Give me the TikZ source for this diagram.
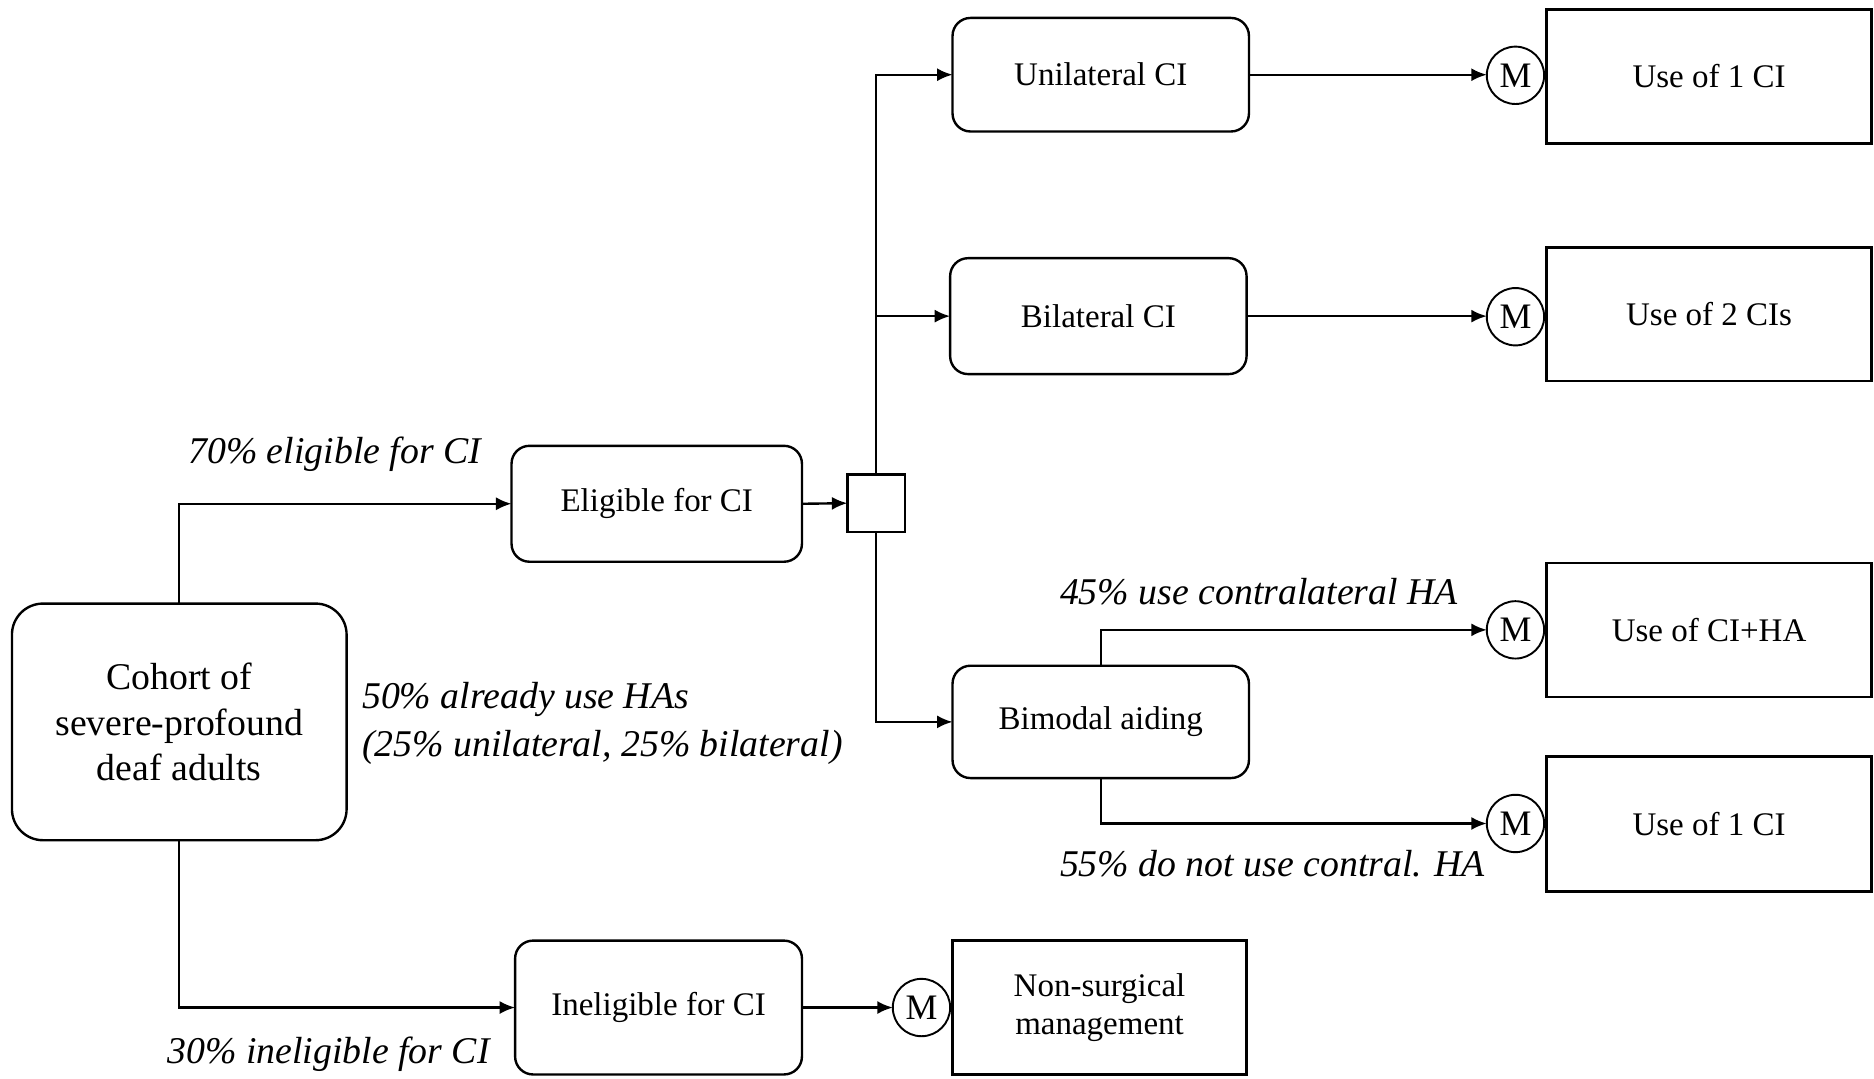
\documentclass[tikz,border=0pt]{standalone}
\usepackage{fontspec}
\setmainfont{Liberation Serif}
\usetikzlibrary{arrows.meta}
\begin{document}
\begin{tikzpicture}[x=0.5pt,y=-0.5pt,
  every node/.style={inner sep=0pt,outer sep=0pt},
  rbox/.style={draw,line width=1pt,rounded corners=7.5pt,align=center,font=\fontsize{13.8}{16}\selectfont},
  sbox/.style={draw,line width=1pt,align=center,font=\fontsize{13.8}{16}\selectfont},
  mcirc/.style={draw,circle,line width=0.8pt,minimum size=24pt,font=\fontsize{15}{16}\selectfont},
  lbl/.style={font=\fontsize{15.8}{18}\selectfont\itshape},
  arr/.style={line width=1pt,-{Latex[length=6.5pt,width=5.5pt]}}]
\useasboundingbox (0,0) rectangle (1568,902);
% boxes
\node[rbox,rounded corners=13pt,minimum width=140pt,minimum height=99pt,font=\fontsize{15.8}{19}\selectfont] (cohort) at (150,604) {Cohort of\\severe-profound\\deaf adults};
\node[rbox,minimum width=121.5pt,minimum height=48.5pt] (elig) at (549.5,421.5) {Eligible for CI};
\node[draw,line width=1pt,minimum width=24pt,minimum height=24pt] (sq) at (733,421) {};
\node[rbox,minimum width=120pt,minimum height=56pt] (inel) at (551,843) {Ineligible for CI};
\node[rbox,minimum width=124pt,minimum height=47.5pt] (uni) at (921,62.5) {Unilateral CI};
\node[rbox,minimum width=124pt,minimum height=48.5pt] (bil) at (919,264.5) {Bilateral CI};
\node[rbox,minimum width=124pt,minimum height=47pt] (bim) at (921,604) {Bimodal aiding};
\node[sbox,minimum width=123pt,minimum height=56pt] (nons) at (920,843) {Non-surgical\\management};
\node[sbox,minimum width=136pt,minimum height=56pt] (use1) at (1430,64) {Use of 1 CI};
\node[sbox,minimum width=136pt,minimum height=56pt] (use2) at (1430,263) {Use of 2 CIs};
\node[sbox,minimum width=136pt,minimum height=56pt] (useh) at (1430,527) {Use of CI+HA};
\node[sbox,minimum width=136pt,minimum height=56.5pt] (use1b) at (1430,689.5) {Use of 1 CI};
% M circles
\node[mcirc] (m1) at (1268,63) {M};
\node[mcirc] (m2) at (1268,265) {M};
\node[mcirc] (m3) at (1268,527) {M};
\node[mcirc] (m4) at (1268,689) {M};
\node[mcirc] (m5) at (771,843) {M};
% connectors
\draw[arr] (cohort.north) |- (elig.west);
\draw[arr] (cohort.south) |- (inel.west);
\draw[arr] (elig.east) -- (sq.west);
\draw[arr] (sq.north) |- (uni.west);
\draw[arr] (sq.north) |- (bil.west);
\draw[arr] (sq.south) |- (bim.west);
\draw[arr] (uni.east) -- (uni.east -| m1.west);
\draw[arr] (bil.east) -- (bil.east -| m2.west);
\draw[arr] (bim.north) |- (m3.west);
\draw[arr] (bim.south) |- (m4.west);
\draw[arr] (inel.east) -- (m5.west);
% labels
\node[lbl] (l70) at (280,380) {70\% eligible for CI};
\node[lbl] (l30) at (275,882) {30\% ineligible for CI};
\node[lbl,anchor=west] (l50) at (303,585) {50\% already use HAs};
\node[lbl,anchor=west] (l25) at (303,625) {(25\% unilateral, 25\% bilateral)};
\node[lbl,anchor=west] (l45) at (887,495) {45\% use contralateral HA};
\node[lbl,anchor=west] (l55) at (887,723) {55\% do not use contral. HA};
\end{tikzpicture}
\end{document}
